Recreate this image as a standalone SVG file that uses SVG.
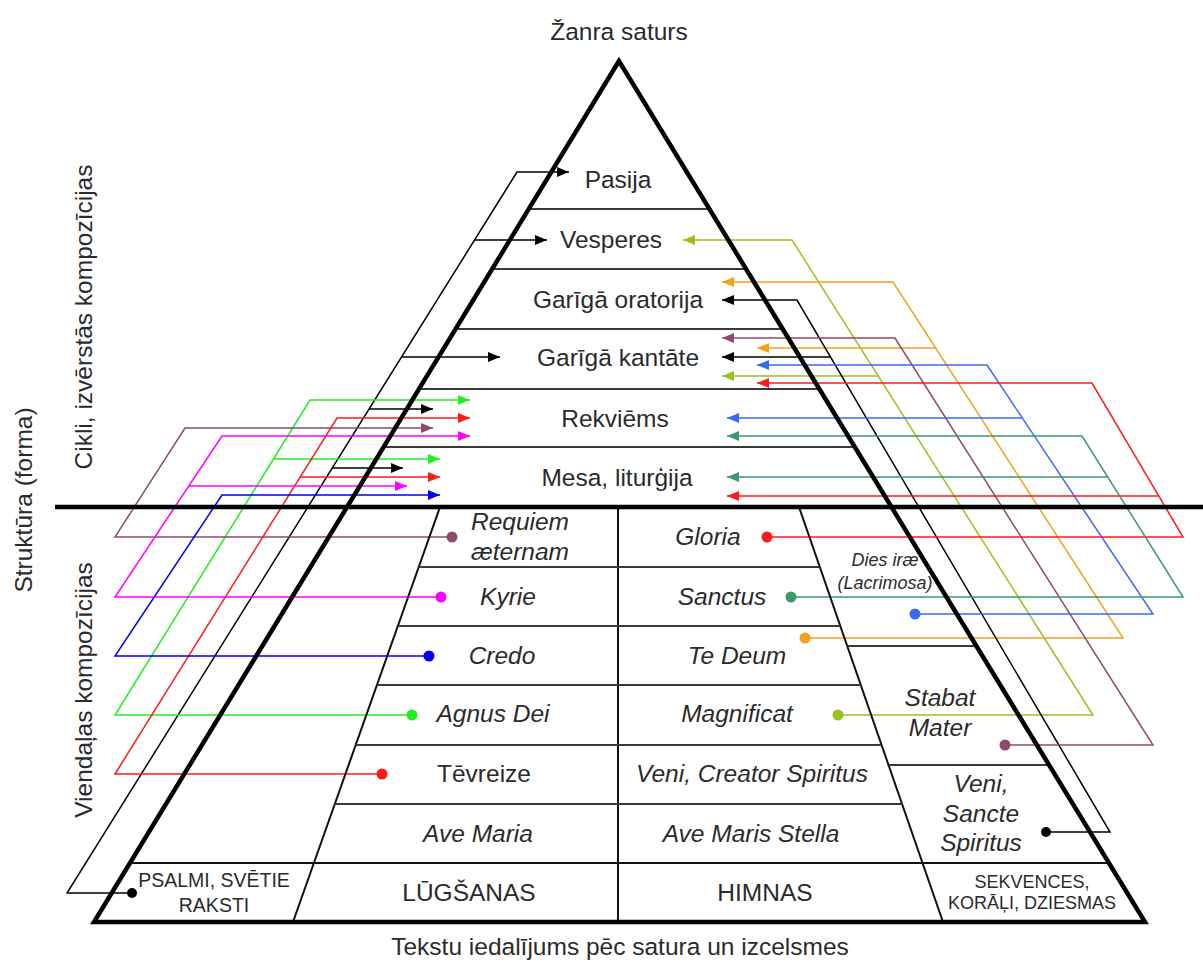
<svg xmlns="http://www.w3.org/2000/svg" width="1203" height="963" viewBox="0 0 1203 963">
<style>
text{font-family:"Liberation Sans",Arial,Helvetica,sans-serif;fill:#2b2b2b}
.t{font-size:24.5px;text-anchor:middle}
.i{font-style:italic}
.s{font-size:19.5px;text-anchor:middle}
.xs{font-size:18px;text-anchor:middle}
.thick{stroke:#000;stroke-width:4.5;fill:none;stroke-linejoin:miter}
.cell{stroke:#111;stroke-width:2;fill:none}
.div{stroke:#3a3a3a;stroke-width:2;fill:none}
.c polyline{fill:none;stroke-width:1.5}
</style>
<defs>
<marker id="ah-k" viewBox="0 0 12 10" refX="12" refY="5" markerWidth="12" markerHeight="10" markerUnits="userSpaceOnUse" orient="auto"><path d="M0,0L12,5L0,10z" fill="#000"/></marker>
<marker id="ah-g" viewBox="0 0 12 10" refX="12" refY="5" markerWidth="12" markerHeight="10" markerUnits="userSpaceOnUse" orient="auto"><path d="M0,0L12,5L0,10z" fill="#22ee22"/></marker>
<marker id="ah-r" viewBox="0 0 12 10" refX="12" refY="5" markerWidth="12" markerHeight="10" markerUnits="userSpaceOnUse" orient="auto"><path d="M0,0L12,5L0,10z" fill="#ff1a1a"/></marker>
<marker id="ah-br" viewBox="0 0 12 10" refX="12" refY="5" markerWidth="12" markerHeight="10" markerUnits="userSpaceOnUse" orient="auto"><path d="M0,0L12,5L0,10z" fill="#8e4a6e"/></marker>
<marker id="ah-m" viewBox="0 0 12 10" refX="12" refY="5" markerWidth="12" markerHeight="10" markerUnits="userSpaceOnUse" orient="auto"><path d="M0,0L12,5L0,10z" fill="#ff00ff"/></marker>
<marker id="ah-b" viewBox="0 0 12 10" refX="12" refY="5" markerWidth="12" markerHeight="10" markerUnits="userSpaceOnUse" orient="auto"><path d="M0,0L12,5L0,10z" fill="#0000ee"/></marker>
<marker id="ah-yg" viewBox="0 0 12 10" refX="12" refY="5" markerWidth="12" markerHeight="10" markerUnits="userSpaceOnUse" orient="auto"><path d="M0,0L12,5L0,10z" fill="#99c31c"/></marker>
<marker id="ah-o" viewBox="0 0 12 10" refX="12" refY="5" markerWidth="12" markerHeight="10" markerUnits="userSpaceOnUse" orient="auto"><path d="M0,0L12,5L0,10z" fill="#f5a01a"/></marker>
<marker id="ah-rb" viewBox="0 0 12 10" refX="12" refY="5" markerWidth="12" markerHeight="10" markerUnits="userSpaceOnUse" orient="auto"><path d="M0,0L12,5L0,10z" fill="#3a6af0"/></marker>
<marker id="ah-t" viewBox="0 0 12 10" refX="12" refY="5" markerWidth="12" markerHeight="10" markerUnits="userSpaceOnUse" orient="auto"><path d="M0,0L12,5L0,10z" fill="#3a9a6a"/></marker>
</defs>
<rect width="1203" height="963" fill="#fff"/>

<g id="connectors" class="c">
 <g id="conn-psalmi" stroke="#000">
  <polyline points="132,893 67,893 517,172 569,172" marker-end="url(#ah-k)"/>
  <polyline points="474.6,240 547,240" marker-end="url(#ah-k)"/>
  <polyline points="401.5,357 500,357" marker-end="url(#ah-k)"/>
  <polyline points="369,409 433,409" marker-end="url(#ah-k)"/>
  <polyline points="332.3,468 403,468" marker-end="url(#ah-k)"/>
  <circle cx="132" cy="893" r="5" fill="#000" stroke="none"/>
 </g>
 <g id="conn-agnus" stroke="#22ee22">
  <polyline points="412,715 115,715 310,400 470,400" marker-end="url(#ah-g)"/>
  <polyline points="273.5,459 440,459" marker-end="url(#ah-g)"/>
  <circle cx="412" cy="715" r="5.5" fill="#22ee22" stroke="none"/>
 </g>
 <g id="conn-tevreize" stroke="#ff1a1a">
  <polyline points="382,774 115,774 337,418 470,418" marker-end="url(#ah-r)"/>
  <polyline points="300.2,477 440,477" marker-end="url(#ah-r)"/>
  <circle cx="382" cy="774" r="5.5" fill="#ff1a1a" stroke="none"/>
 </g>
 <g id="conn-requiem" stroke="#8e4a6e">
  <polyline points="452,537 115,537 185,428 433,428" marker-end="url(#ah-br)"/>
  <circle cx="452" cy="537" r="5.5" fill="#8e4a6e" stroke="none"/>
 </g>
 <g id="conn-kyrie" stroke="#ff00ff">
  <polyline points="441,597 115,597 222,436 470,436" marker-end="url(#ah-m)"/>
  <polyline points="188.8,486 407,486" marker-end="url(#ah-m)"/>
  <circle cx="441" cy="597" r="5.5" fill="#ff00ff" stroke="none"/>
 </g>
 <g id="conn-credo" stroke="#0000ee">
  <polyline points="429,656 115,656 222,495 440,495" marker-end="url(#ah-b)"/>
  <circle cx="429" cy="656" r="5.5" fill="#0000ee" stroke="none"/>
 </g>
 <g id="conn-magnificat" stroke="#99c31c">
  <polyline points="838,715 1093,715 792,240 683,240" marker-end="url(#ah-yg)"/>
  <polyline points="878.2,376 722,376" marker-end="url(#ah-yg)"/>
  <circle cx="838" cy="715" r="5.5" fill="#99c31c" stroke="none"/>
 </g>
 <g id="conn-tedeum" stroke="#f5a01a">
  <polyline points="805,638 1123,638 893,282 722,282" marker-end="url(#ah-o)"/>
  <polyline points="935.6,348 757,348" marker-end="url(#ah-o)"/>
  <circle cx="805" cy="638" r="5.5" fill="#f5a01a" stroke="none"/>
 </g>
 <g id="conn-venisancte" stroke="#000">
  <polyline points="1046,832 1110,832 797,300 722,300" marker-end="url(#ah-k)"/>
  <polyline points="830.5,357 722,357" marker-end="url(#ah-k)"/>
  <circle cx="1046" cy="832" r="5" fill="#000" stroke="none"/>
 </g>
 <g id="conn-stabat" stroke="#8e4a6e">
  <polyline points="1005,745 1153,745 895,338 722,338" marker-end="url(#ah-br)"/>
  <circle cx="1005" cy="745" r="5.5" fill="#8e4a6e" stroke="none"/>
 </g>
 <g id="conn-diesirae" stroke="#3a6af0">
  <polyline points="915,614 1153,614 987,365 757,365" marker-end="url(#ah-rb)"/>
  <polyline points="1022.3,418 727,418" marker-end="url(#ah-rb)"/>
  <circle cx="915" cy="614" r="5.5" fill="#3a6af0" stroke="none"/>
 </g>
 <g id="conn-gloria" stroke="#ff1a1a">
  <polyline points="767,537 1183,537 1092,383 757,383" marker-end="url(#ah-r)"/>
  <polyline points="1158.8,496 727,496" marker-end="url(#ah-r)"/>
  <circle cx="767" cy="537" r="5.5" fill="#ff1a1a" stroke="none"/>
 </g>
 <g id="conn-sanctus" stroke="#3a9a6a">
  <polyline points="791,597 1183,597 1082,436 727,436" marker-end="url(#ah-t)"/>
  <polyline points="1107.7,477 727,477" marker-end="url(#ah-t)"/>
  <circle cx="791" cy="597" r="5.5" fill="#3a9a6a" stroke="none"/>
 </g>
</g>

<g id="frame">
 <line class="div" x1="528.7" y1="209" x2="709.4" y2="209"/>
 <line class="div" x1="492.2" y1="269" x2="746.1" y2="269"/>
 <line class="div" x1="455.6" y1="329" x2="782.7" y2="329"/>
 <line class="div" x1="419" y1="389" x2="819.4" y2="389"/>
 <line class="div" x1="383.6" y1="447" x2="854.8" y2="447"/>
 <line class="cell" x1="440" y1="507" x2="293" y2="922"/>
 <line class="cell" x1="618" y1="507" x2="618" y2="922"/>
 <line class="cell" x1="799" y1="507" x2="943" y2="922"/>
 <line class="div" x1="418.8" y1="567" x2="819.8" y2="567"/>
 <line class="div" x1="397.9" y1="626" x2="840.3" y2="626"/>
 <line class="div" x1="377" y1="685" x2="860.8" y2="685"/>
 <line class="div" x1="355.7" y1="745" x2="881.6" y2="745"/>
 <line class="div" x1="334.9" y1="804" x2="902.1" y2="804"/>
 <line class="div" x1="847.3" y1="646" x2="976.4" y2="646"/>
 <line class="div" x1="888.7" y1="765" x2="1049.1" y2="765"/>
 <line class="cell" x1="129.9" y1="863" x2="1108.9" y2="863" stroke-width="2.5"/>
 <polygon class="thick" points="619,61 94,922 1145,922"/>
 <line class="thick" x1="55" y1="507" x2="1203" y2="507"/>
</g>

<g id="title-top"><text class="t" x="619" y="40">Žanra saturs</text></g>
<g id="title-bottom"><text class="t" x="620" y="955">Tekstu iedalījums pēc satura un izcelsmes</text></g>
<g id="axis-structure"><text class="t" transform="translate(32,500) rotate(-90)">Struktūra (forma)</text></g>
<g id="axis-cycles"><text class="t" transform="translate(92,317) rotate(-90)">Cikli, izvērstās kompozīcijas</text></g>
<g id="axis-single"><text class="t" transform="translate(92,690) rotate(-90)">Viendaļas kompozīcijas</text></g>

<g id="node-pasija"><text class="t" x="618" y="188">Pasija</text></g>
<g id="node-vesperes"><text class="t" x="611" y="248">Vesperes</text></g>
<g id="node-oratorija"><text class="t" x="618" y="308">Garīgā oratorija</text></g>
<g id="node-kantate"><text class="t" x="618" y="366">Garīgā kantāte</text></g>
<g id="node-rekviems"><text class="t" x="615" y="427">Rekviēms</text></g>
<g id="node-mesa"><text class="t" x="617" y="486">Mesa, liturģija</text></g>

<g id="node-requiem"><text class="t i" x="520" y="530">Requiem</text><text class="t i" x="520" y="560">æternam</text></g>
<g id="node-gloria"><text class="t i" x="708" y="545">Gloria</text></g>
<g id="node-kyrie"><text class="t i" x="508" y="605">Kyrie</text></g>
<g id="node-sanctus"><text class="t i" x="722" y="605">Sanctus</text></g>
<g id="node-credo"><text class="t i" x="502" y="664">Credo</text></g>
<g id="node-tedeum"><text class="t i" x="737" y="664">Te Deum</text></g>
<g id="node-agnus"><text class="t i" x="493" y="722">Agnus Dei</text></g>
<g id="node-magnificat"><text class="t i" x="737" y="722">Magnificat</text></g>
<g id="node-tevreize"><text class="t" x="484" y="782">Tēvreize</text></g>
<g id="node-venicreator"><text class="t i" x="752" y="782">Veni, Creator Spiritus</text></g>
<g id="node-avemaria"><text class="t i" x="478" y="842">Ave Maria</text></g>
<g id="node-avemaris"><text class="t i" x="751" y="842">Ave Maris Stella</text></g>
<g id="node-lugsanas"><text class="t" x="469" y="901">LŪGŠANAS</text></g>
<g id="node-himnas"><text class="t" x="765" y="901">HIMNAS</text></g>
<g id="node-psalmi"><text class="s" x="214" y="887">PSALMI, SVĒTIE</text><text class="s" x="214" y="912">RAKSTI</text></g>
<g id="node-sekvences"><text class="xs" x="1032" y="888">SEKVENCES,</text><text class="xs" x="1032" y="909">KORĀĻI, DZIESMAS</text></g>
<g id="node-diesirae"><text class="xs i" x="885" y="566">Dies iræ</text><text class="xs i" x="885" y="589">(Lacrimosa)</text></g>
<g id="node-stabat"><text class="t i" x="940" y="706">Stabat</text><text class="t i" x="940" y="736">Mater</text></g>
<g id="node-venisancte"><text class="t i" x="981" y="792">Veni,</text><text class="t i" x="981" y="822">Sancte</text><text class="t i" x="981" y="851">Spiritus</text></g>
</svg>
